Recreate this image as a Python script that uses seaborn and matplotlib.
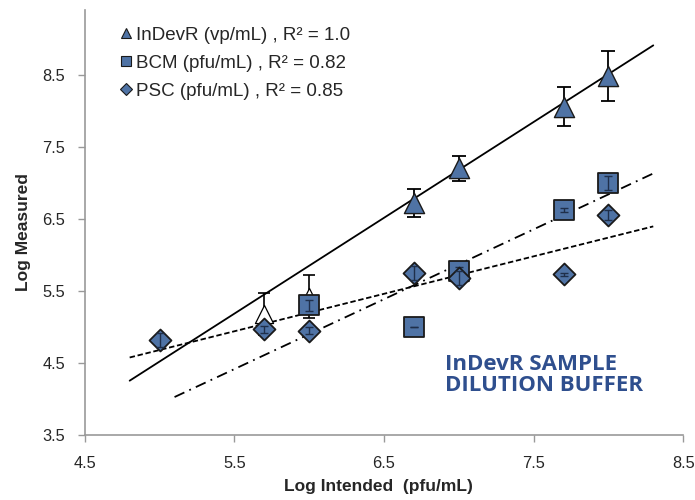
import matplotlib
matplotlib.use("Agg")
import matplotlib.pyplot as plt
from matplotlib.lines import Line2D
import seaborn as sns
import numpy as np
import pandas as pd

# ---- data ----
indevr_x = [6.7, 7.0, 7.7, 8.0]
indevr_y = [6.72, 7.20, 8.06, 8.48]
indevr_err = [0.20, 0.18, 0.27, 0.35]

hidden_x = [5.7, 6.0, 7.0]
hidden_y = [5.18, 5.42, 5.76]
hidden_err = [0.29, 0.30, 0.05]

bcm_x = [6.0, 6.7, 7.0, 7.7, 8.0]
bcm_y = [5.30, 5.00, 5.78, 6.62, 7.00]
bcm_err = [0.08, 0.0, 0.05, 0.03, 0.10]

psc_x = [5.0, 5.7, 6.0, 6.7, 7.0, 7.7, 8.0]
psc_y = [4.82, 4.97, 4.95, 5.75, 5.68, 5.73, 6.55]
psc_err = [0.10, 0.05, 0.05, 0.10, 0.10, 0.02, 0.07]

legend_labels = ["InDevR (vp/mL) , R\u00b2 = 1.0",
                 "BCM (pfu/mL) , R\u00b2 = 0.82",
                 "PSC (pfu/mL) , R\u00b2 = 0.85"]

# trendlines (slope, intercept, x-range)
trend_indevr = (1.33, -2.13, 4.8, 8.3)
trend_bcm = (0.97, -0.92, 5.1, 8.3)
trend_psc = (0.52, 2.08, 4.8, 8.3)

xticks = [4.5, 5.5, 6.5, 7.5, 8.5]
yticks = [3.5, 4.5, 5.5, 6.5, 7.5, 8.5]

# ---- style ----
sns.set_style("white")
plt.rcParams['font.family'] = ['Liberation Sans', 'DejaVu Sans']

fill = "#4f73a5"
edge = "#1a1a1a"
txt_blue = "#2f4f8e"

fig = plt.figure(figsize=(6.95, 5.0), dpi=100)
ax = fig.add_axes([0.122, 0.13, 0.861, 0.85])

def trend(ax, params, ls):
    m, b, x0, x1 = params
    xs = np.array([x0, x1])
    df = pd.DataFrame({"x": xs, "y": m * xs + b})
    sns.lineplot(data=df, x="x", y="y", ax=ax, color="black", lw=1.3,
                 linestyle=ls, zorder=2)

trend(ax, trend_indevr, "-")
trend(ax, trend_bcm, (0, (6, 3, 1, 3)))
trend(ax, trend_psc, (0, (3, 1.5)))

# hidden white triangles (behind)
ax.errorbar(hidden_x, hidden_y, yerr=hidden_err, fmt="none", ecolor="black",
            elinewidth=1.2, capsize=4, capthick=1.2, zorder=3)
sns.scatterplot(x=hidden_x, y=hidden_y, marker="^", s=170, color="white",
                edgecolor="black", linewidth=0.9, ax=ax, zorder=3.5)

# squares & diamonds
sns.scatterplot(x=bcm_x, y=bcm_y, marker="s", s=200, color=fill,
                edgecolor=edge, linewidth=1.3, ax=ax, zorder=4)
ax.errorbar(bcm_x, bcm_y, yerr=bcm_err, fmt="none", ecolor="#1f2f4a",
            elinewidth=1.0, capsize=3, capthick=1.0, zorder=4.5)

sns.scatterplot(x=psc_x, y=psc_y, marker="D", s=125, color=fill,
                edgecolor=edge, linewidth=1.3, ax=ax, zorder=5)
ax.errorbar(psc_x, psc_y, yerr=psc_err, fmt="none", ecolor="#1f2f4a",
            elinewidth=1.0, capsize=3, capthick=1.0, zorder=5.5)

# InDevR triangles
ax.errorbar(indevr_x, indevr_y, yerr=indevr_err, fmt="none", ecolor="black",
            elinewidth=1.3, capsize=5, capthick=1.3, zorder=6)
sns.scatterplot(x=indevr_x, y=indevr_y, marker="^", s=210, color=fill,
                edgecolor=edge, linewidth=1.0, ax=ax, zorder=6.5)

ax.set_xlim(4.5, 8.5)
ax.set_ylim(3.5, 9.4)
ax.set_xticks(xticks)
ax.set_yticks(yticks)
ax.set_xticklabels([f"{t}" for t in xticks], fontsize=11.8)
ax.set_yticklabels([f"{t}" for t in yticks], fontsize=11.8)
ax.tick_params(axis="x", direction="out", length=5, width=1, color="#999999",
               bottom=True, pad=10)
ax.tick_params(axis="y", direction="out", length=5, width=1, color="#999999",
               left=True, pad=9)

for s in ["top", "right"]:
    ax.spines[s].set_visible(False)
for s in ["left", "bottom"]:
    ax.spines[s].set_color("#999999")
    ax.spines[s].set_linewidth(1.2)

ax.set_xlabel("Log Intended  (pfu/mL)", fontsize=12.5, fontweight="bold")
ax.set_ylabel("Log Measured", fontsize=12.5, fontweight="bold")
ax.xaxis.set_label_coords(0.49, -0.103)
ax.yaxis.set_label_coords(-0.09, 0.478)

handles = [
    Line2D([], [], marker="^", ls="none", markersize=7.5, markerfacecolor=fill,
           markeredgecolor=edge, markeredgewidth=0.8),
    Line2D([], [], marker="s", ls="none", markersize=7.5, markerfacecolor=fill,
           markeredgecolor=edge, markeredgewidth=0.8),
    Line2D([], [], marker="D", ls="none", markersize=6, markerfacecolor=fill,
           markeredgecolor=edge, markeredgewidth=0.8),
]
ax.legend(handles, legend_labels, loc="upper left", bbox_to_anchor=(0.025, 1.0),
          frameon=False, fontsize=13.5, handletextpad=0.05, handlelength=1.0,
          labelspacing=0.58)

ax.text(6.91, 4.62, "InDevR SAMPLE\nDILUTION BUFFER", color=txt_blue,
        fontsize=16, fontweight="bold", family=["Open Sans", "DejaVu Sans"],
        va="top", ha="left", linespacing=1.0)

fig.savefig("out.png", dpi=100)
